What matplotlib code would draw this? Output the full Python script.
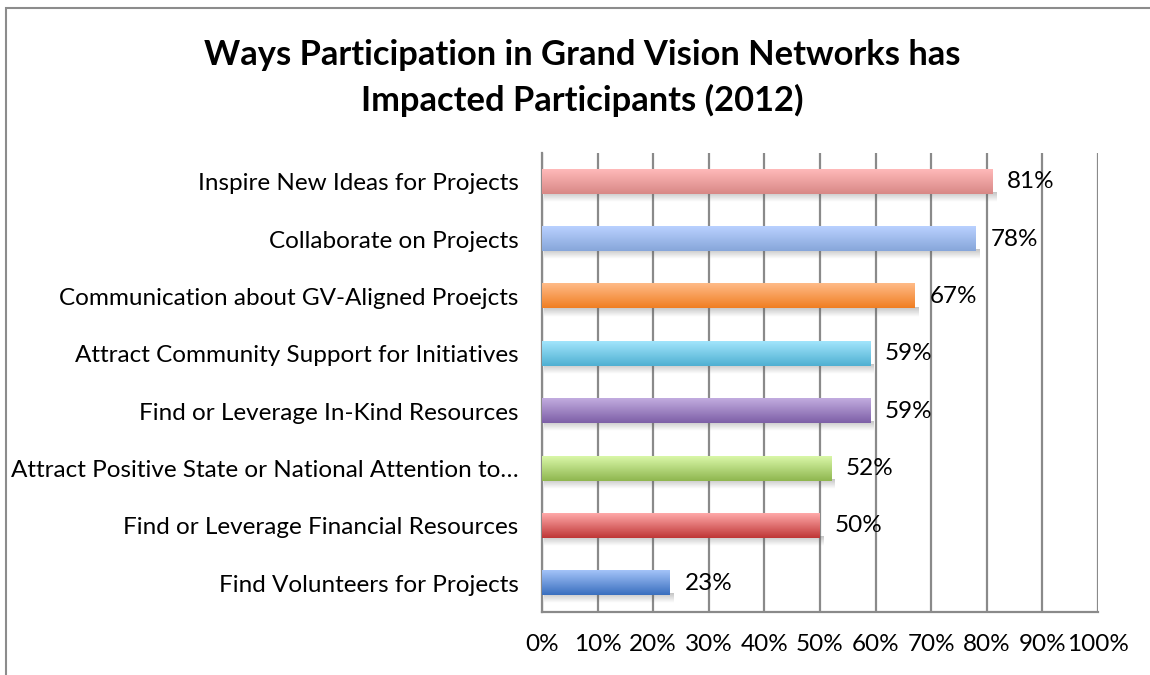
"""Impact of Grand Vision Networks participation, Excel-style gradient bar chart."""

import matplotlib

matplotlib.use("Agg")
import matplotlib.pyplot as plt
import numpy as np
from matplotlib.colors import to_rgb
from matplotlib.patches import Rectangle

categories = [
    "Inspire New Ideas for Projects",
    "Collaborate on Projects",
    "Communication about GV-Aligned Proejcts",
    "Attract Community Support for Initiatives",
    "Find or Leverage In-Kind Resources",
    "Attract Positive State or National Attention to\u2026",
    "Find or Leverage Financial Resources",
    "Find Volunteers for Projects",
]
values = [81, 78, 67, 59, 59, 52, 50, 23]
top_colors = ["#ffb9b9", "#b9d1ff", "#ffbb88", "#a2e5fc", "#c2acdf", "#d9f7a8", "#ffa9a9", "#a3c3f8"]
bottom_colors = ["#d88886", "#87a6da", "#f07e22", "#4fb0d2", "#7d5fa7", "#8fb64f", "#bf3636", "#3a6fbf"]
ticks = list(range(0, 101, 10))


def gradient(c1, c2, n=64):
    a, b = np.array(to_rgb(c1)), np.array(to_rgb(c2))
    t = np.linspace(0, 1, n)[:, None]
    return (a * (1 - t) + b * t)[:, None, :]


plt.rcParams["font.family"] = ["Lato", "DejaVu Sans"]
fs = 17.5

fig = plt.figure(figsize=(11.5, 6.75), dpi=100)
fig.patches.append(
    Rectangle((6 / 1150, -0.1), 1.2, 1.1 - 8 / 675, transform=fig.transFigure,
              fill=False, edgecolor="#8c8c8c", linewidth=1.5, zorder=0)
)

ax = fig.add_axes([542 / 1150, 1 - 612 / 675, 556 / 1150, 459 / 675])
ax.set_xlim(0, 100)
ax.set_ylim(len(categories) - 0.5, -0.5)

bh = 0.42
for i, (v, c1, c2) in enumerate(zip(values, top_colors, bottom_colors)):
    # soft shadow under bar
    sh = np.zeros((16, 1, 4))
    sh[..., :3] = 0.35
    sh[:, 0, 3] = np.linspace(0.35, 0.0, 16)
    ax.imshow(sh, extent=(0.3, v + 0.6, i + bh / 2 + 0.14, i + bh / 2 - 0.02),
              aspect="auto", interpolation="bilinear", zorder=2)
    ax.imshow(gradient(c1, c2), extent=(0, v, i + bh / 2, i - bh / 2),
              aspect="auto", interpolation="bilinear", zorder=3)
    ax.text(v + 2.7, i, f"{v}%", va="center", ha="left", fontsize=fs, color="#000000", zorder=4)

ax.set_xticks(ticks)
ax.set_xticklabels([f"{t}%" for t in ticks], fontsize=fs)
ax.set_yticks(range(len(categories)))
ax.set_yticklabels(categories, fontsize=fs)
ax.tick_params(axis="both", length=0)
ax.tick_params(axis="y", pad=17)
ax.tick_params(axis="x", pad=16)
ax.grid(axis="x", color="#8a8a8a", linewidth=1.6, zorder=1)
ax.set_axisbelow(True)
for side in ["top", "right"]:
    ax.spines[side].set_visible(False)
for side in ["left", "bottom"]:
    ax.spines[side].set_color("#8a8a8a")
    ax.spines[side].set_linewidth(1.6)

fig.text(0.506, 1 - 55 / 675, "Ways Participation in Grand Vision Networks has",
         ha="center", va="center", fontsize=24.8, fontweight="bold")
fig.text(0.506, 1 - 100 / 675, "Impacted Participants (2012)",
         ha="center", va="center", fontsize=24.8, fontweight="bold")

fig.savefig("out.png", dpi=100)
